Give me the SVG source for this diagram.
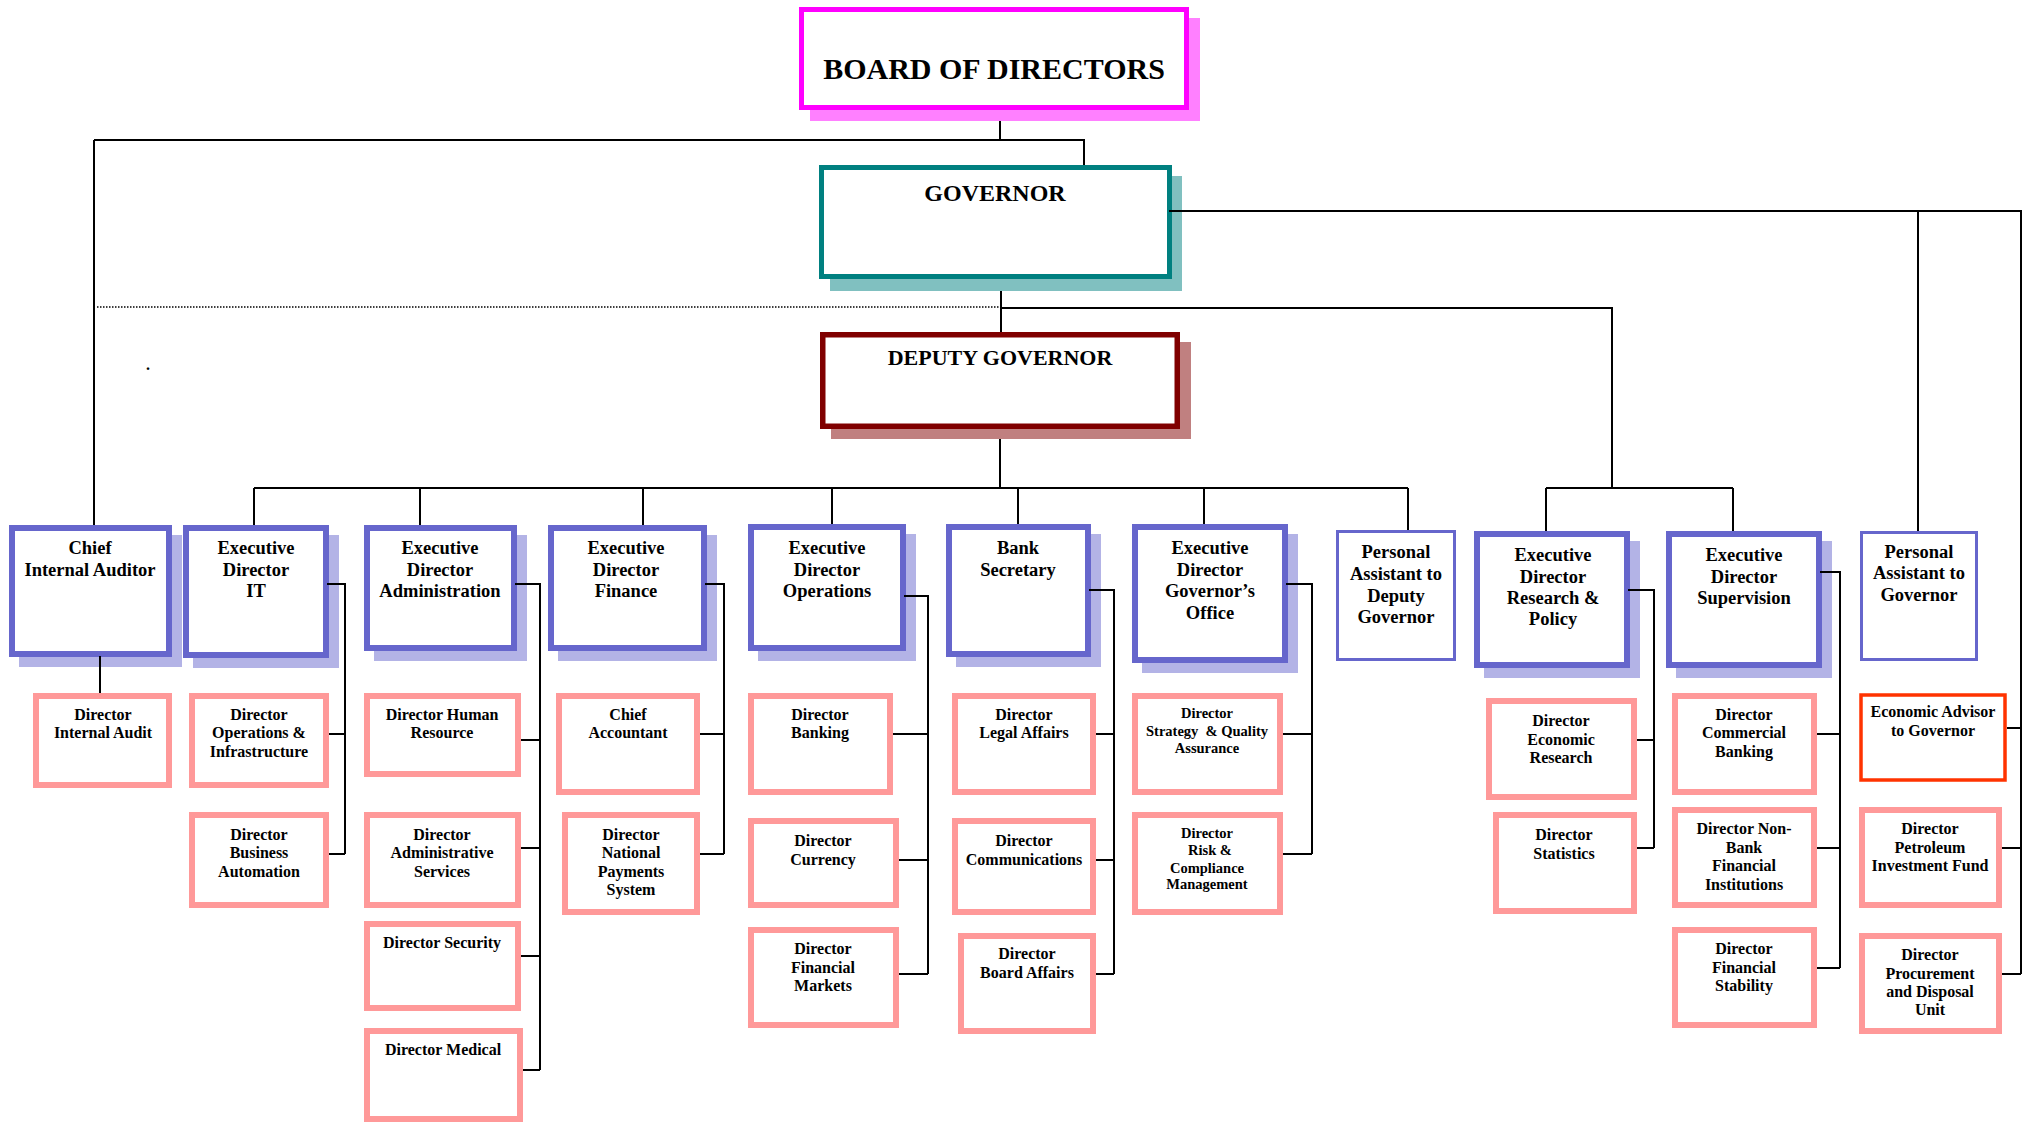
<svg xmlns="http://www.w3.org/2000/svg" width="2029" height="1123" viewBox="0 0 2029 1123">
<style>
.bg{fill:#fff}
.ln{stroke:#000;stroke-width:2;fill:none}
.dot{stroke:#000;stroke-width:1.5;fill:none;stroke-dasharray:1.5 1.5}
.ed{fill:#fff;stroke:#6666CC;stroke-width:6}
.eds{fill:#B3B3E6}
.pa{fill:#fff;stroke:#6666CC;stroke-width:3}
.pk{fill:#fff;stroke:#FF9999;stroke-width:6}
.rd{fill:#fff;stroke:#FF3300;stroke-width:3.5}
text{font-family:"Liberation Serif","Times New Roman",serif;font-weight:bold;fill:#000;text-anchor:middle}
.t30{font-size:30px}
.t24{font-size:24px}
.t22{font-size:22px}
.t18{font-size:18.5px}
.t16{font-size:16px}
.t14{font-size:14.5px}
</style>
<rect class="bg" x="0" y="0" width="2029" height="1123"/>
<text class="t16" x="148" y="370">.</text>
<g id="board">
<rect x="810" y="18" width="390" height="103" fill="#FF80FF"/>
<rect x="801.5" y="9.5" width="385" height="98" fill="#fff" stroke="#FF00FF" stroke-width="5"/>
<text class="t30" x="994" y="79">BOARD OF DIRECTORS</text>
</g>
<g id="governor">
<rect x="830" y="176" width="352" height="115" fill="#80C0C0"/>
<rect x="821.5" y="167.5" width="348" height="109" fill="#fff" stroke="#008080" stroke-width="5"/>
<text class="t24" x="995" y="201">GOVERNOR</text>
</g>
<g id="deputy">
<rect x="831" y="342" width="360" height="97" fill="#C08080"/>
<rect x="822.75" y="334.75" width="354.5" height="91.5" fill="#fff" stroke="#800000" stroke-width="5.5"/>
<text class="t22" x="1000" y="365">DEPUTY GOVERNOR</text>
</g>
<g id="chief-internal-auditor">
<rect class="eds" x="19" y="535" width="163" height="132"/>
<rect class="ed" x="12" y="528" width="157" height="126"/>
<text class="t18" x="90"><tspan x="90" y="554">Chief</tspan><tspan x="90" y="576">Internal Auditor</tspan></text>
</g>
<g id="ed-it">
<rect class="eds" x="193" y="535" width="146" height="133"/>
<rect class="ed" x="186" y="528" width="140" height="127"/>
<text class="t18"><tspan x="256" y="554">Executive</tspan><tspan x="256" y="576">Director</tspan><tspan x="256" y="597">IT</tspan></text>
</g>
<g id="ed-admin">
<rect class="eds" x="374" y="535" width="153" height="126"/>
<rect class="ed" x="367" y="528" width="147" height="120"/>
<text class="t18"><tspan x="440" y="554">Executive</tspan><tspan x="440" y="576">Director</tspan><tspan x="440" y="597">Administration</tspan></text>
</g>
<g id="ed-finance">
<rect class="eds" x="558" y="535" width="159" height="126"/>
<rect class="ed" x="551" y="528" width="153" height="120"/>
<text class="t18"><tspan x="626" y="554">Executive</tspan><tspan x="626" y="576">Director</tspan><tspan x="626" y="597">Finance</tspan></text>
</g>
<g id="ed-operations">
<rect class="eds" x="758" y="534" width="158" height="127"/>
<rect class="ed" x="751" y="527" width="152" height="121"/>
<text class="t18"><tspan x="827" y="554">Executive</tspan><tspan x="827" y="576">Director</tspan><tspan x="827" y="597">Operations</tspan></text>
</g>
<g id="bank-secretary">
<rect class="eds" x="956" y="534" width="145" height="133"/>
<rect class="ed" x="949" y="527" width="139" height="127"/>
<text class="t18"><tspan x="1018" y="554">Bank</tspan><tspan x="1018" y="576">Secretary</tspan></text>
</g>
<g id="ed-governors-office">
<rect class="eds" x="1142" y="534" width="156" height="139"/>
<rect class="ed" x="1135" y="527" width="150" height="133"/>
<text class="t18"><tspan x="1210" y="554">Executive</tspan><tspan x="1210" y="576">Director</tspan><tspan x="1210" y="597">Governor’s</tspan><tspan x="1210" y="619">Office</tspan></text>
</g>
<g id="pa-deputy">
<rect class="pa" x="1337.5" y="531.5" width="117" height="128"/>
<text class="t18"><tspan x="1396" y="558">Personal</tspan><tspan x="1396" y="580">Assistant to</tspan><tspan x="1396" y="602">Deputy</tspan><tspan x="1396" y="623">Governor</tspan></text>
</g>
<g id="ed-research">
<rect class="eds" x="1484" y="541" width="156" height="137"/>
<rect class="ed" x="1477" y="534" width="150" height="131"/>
<text class="t18"><tspan x="1553" y="561">Executive</tspan><tspan x="1553" y="583">Director</tspan><tspan x="1553" y="604">Research &amp;</tspan><tspan x="1553" y="625">Policy</tspan></text>
</g>
<g id="ed-supervision">
<rect class="eds" x="1676" y="541" width="156" height="137"/>
<rect class="ed" x="1669" y="534" width="150" height="131"/>
<text class="t18"><tspan x="1744" y="561">Executive</tspan><tspan x="1744" y="583">Director</tspan><tspan x="1744" y="604">Supervision</tspan></text>
</g>
<g id="pa-governor">
<rect class="pa" x="1861.5" y="532.5" width="115" height="127"/>
<text class="t18"><tspan x="1919" y="558">Personal</tspan><tspan x="1919" y="579">Assistant to</tspan><tspan x="1919" y="601">Governor</tspan></text>
</g>
<g id="dir-internal-audit">
<rect class="pk" x="36" y="696" width="133" height="89"/>
<text class="t16"><tspan x="103" y="720">Director</tspan><tspan x="103" y="738">Internal Audit</tspan></text>
</g>
<g id="dir-ops-infra">
<rect class="pk" x="192" y="696" width="134" height="89"/>
<text class="t16"><tspan x="259" y="720">Director</tspan><tspan x="259" y="738">Operations &amp;</tspan><tspan x="259" y="757">Infrastructure</tspan></text>
</g>
<g id="dir-business-automation">
<rect class="pk" x="192" y="815" width="134" height="90"/>
<text class="t16"><tspan x="259" y="840">Director</tspan><tspan x="259" y="858">Business</tspan><tspan x="259" y="877">Automation</tspan></text>
</g>
<g id="dir-hr">
<rect class="pk" x="367" y="696" width="151" height="78"/>
<text class="t16"><tspan x="442" y="720">Director Human</tspan><tspan x="442" y="738">Resource</tspan></text>
</g>
<g id="dir-admin-services">
<rect class="pk" x="367" y="815" width="151" height="90"/>
<text class="t16"><tspan x="442" y="840">Director</tspan><tspan x="442" y="858">Administrative</tspan><tspan x="442" y="877">Services</tspan></text>
</g>
<g id="dir-security">
<rect class="pk" x="367" y="924" width="151" height="84"/>
<text class="t16" x="442" y="948">Director Security</text>
</g>
<g id="dir-medical">
<rect class="pk" x="367" y="1031" width="153" height="88"/>
<text class="t16" x="443" y="1055">Director Medical</text>
</g>
<g id="chief-accountant">
<rect class="pk" x="559" y="696" width="138" height="96"/>
<text class="t16"><tspan x="628" y="720">Chief</tspan><tspan x="628" y="738">Accountant</tspan></text>
</g>
<g id="dir-nps">
<rect class="pk" x="565" y="815" width="132" height="97"/>
<text class="t16"><tspan x="631" y="840">Director</tspan><tspan x="631" y="858">National</tspan><tspan x="631" y="877">Payments</tspan><tspan x="631" y="895">System</tspan></text>
</g>
<g id="dir-banking">
<rect class="pk" x="751" y="696" width="139" height="96"/>
<text class="t16"><tspan x="820" y="720">Director</tspan><tspan x="820" y="738">Banking</tspan></text>
</g>
<g id="dir-currency">
<rect class="pk" x="751" y="821" width="145" height="84"/>
<text class="t16"><tspan x="823" y="846">Director</tspan><tspan x="823" y="865">Currency</tspan></text>
</g>
<g id="dir-financial-markets">
<rect class="pk" x="751" y="930" width="145" height="95"/>
<text class="t16"><tspan x="823" y="954">Director</tspan><tspan x="823" y="973">Financial</tspan><tspan x="823" y="991">Markets</tspan></text>
</g>
<g id="dir-legal">
<rect class="pk" x="955" y="696" width="138" height="96"/>
<text class="t16"><tspan x="1024" y="720">Director</tspan><tspan x="1024" y="738">Legal Affairs</tspan></text>
</g>
<g id="dir-communications">
<rect class="pk" x="955" y="821" width="138" height="91"/>
<text class="t16"><tspan x="1024" y="846">Director</tspan><tspan x="1024" y="865">Communications</tspan></text>
</g>
<g id="dir-board-affairs">
<rect class="pk" x="961" y="936" width="132" height="95"/>
<text class="t16"><tspan x="1027" y="959">Director</tspan><tspan x="1027" y="978">Board Affairs</tspan></text>
</g>
<g id="dir-strategy">
<rect class="pk" x="1135" y="696" width="145" height="96"/>
<text class="t14" xml:space="preserve"><tspan x="1207" y="718">Director</tspan><tspan x="1207" y="736">Strategy  &amp; Quality</tspan><tspan x="1207" y="753">Assurance</tspan></text>
</g>
<g id="dir-risk">
<rect class="pk" x="1135" y="815" width="145" height="97"/>
<text class="t14"><tspan x="1207" y="838">Director</tspan><tspan x="1210" y="855">Risk &amp;</tspan><tspan x="1207" y="873">Compliance</tspan><tspan x="1207" y="889">Management</tspan></text>
</g>
<g id="dir-economic-research">
<rect class="pk" x="1489" y="701" width="145" height="96"/>
<text class="t16"><tspan x="1561" y="726">Director</tspan><tspan x="1561" y="745">Economic</tspan><tspan x="1561" y="763">Research</tspan></text>
</g>
<g id="dir-statistics">
<rect class="pk" x="1496" y="815" width="138" height="96"/>
<text class="t16"><tspan x="1564" y="840">Director</tspan><tspan x="1564" y="859">Statistics</tspan></text>
</g>
<g id="dir-commercial-banking">
<rect class="pk" x="1675" y="696" width="139" height="96"/>
<text class="t16"><tspan x="1744" y="720">Director</tspan><tspan x="1744" y="738">Commercial</tspan><tspan x="1744" y="757">Banking</tspan></text>
</g>
<g id="dir-nbfi">
<rect class="pk" x="1675" y="810" width="139" height="95"/>
<text class="t16"><tspan x="1744" y="834">Director Non-</tspan><tspan x="1744" y="853">Bank</tspan><tspan x="1744" y="871">Financial</tspan><tspan x="1744" y="890">Institutions</tspan></text>
</g>
<g id="dir-financial-stability">
<rect class="pk" x="1675" y="930" width="139" height="95"/>
<text class="t16"><tspan x="1744" y="954">Director</tspan><tspan x="1744" y="973">Financial</tspan><tspan x="1744" y="991">Stability</tspan></text>
</g>
<g id="economic-advisor">
<rect class="rd" x="1861" y="695" width="144" height="85"/>
<text class="t16"><tspan x="1933" y="717">Economic Advisor</tspan><tspan x="1933" y="736">to Governor</tspan></text>
</g>
<g id="dir-petroleum">
<rect class="pk" x="1862" y="810" width="137" height="95"/>
<text class="t16"><tspan x="1930" y="834">Director</tspan><tspan x="1930" y="853">Petroleum</tspan><tspan x="1930" y="871">Investment Fund</tspan></text>
</g>
<g id="dir-procurement">
<rect class="pk" x="1862" y="936" width="137" height="95"/>
<text class="t16"><tspan x="1930" y="960">Director</tspan><tspan x="1930" y="979">Procurement</tspan><tspan x="1930" y="997">and Disposal</tspan><tspan x="1930" y="1015">Unit</tspan></text>
</g>
<g id="connectors">
<path class="ln" d="M1000,121V140M94,140H1084V165M94,140V525"/>
<path class="ln" d="M1001,291V332"/>
<path class="dot" d="M97,307H1001"/>
<path class="ln" d="M1001,308H1612V488M1546,488H1733M1546,488V531M1733,488V531"/>
<path class="ln" d="M1000,439V488M254,488H1408M254,488V525M420,488V525M643,488V525M832,488V524M1018,488V524M1204,488V524M1408,488V530"/>
<path class="ln" d="M1169,211H2021V974M1918,211V531M2007,728H2021M2002,848H2021M2002,974H2021"/>
<path class="ln" d="M100,656V693"/>
<path class="ln" d="M327,584H345V854M329,734H345M329,854H345"/>
<path class="ln" d="M515,584H540V1070M521,740H540M521,848H540M521,956H540M523,1070H540"/>
<path class="ln" d="M705,584H724V854M700,734H724M700,854H724"/>
<path class="ln" d="M904,596H928V974M893,734H928M899,860H928M899,974H928"/>
<path class="ln" d="M1089,590H1114V974M1096,734H1114M1096,860H1114M1096,974H1114"/>
<path class="ln" d="M1286,584H1312V854M1283,734H1312M1283,854H1312"/>
<path class="ln" d="M1628,590H1654V848M1637,740H1654M1637,848H1654"/>
<path class="ln" d="M1820,572H1840V968M1817,734H1840M1817,848H1840M1817,968H1840"/>
</g>
</svg>
